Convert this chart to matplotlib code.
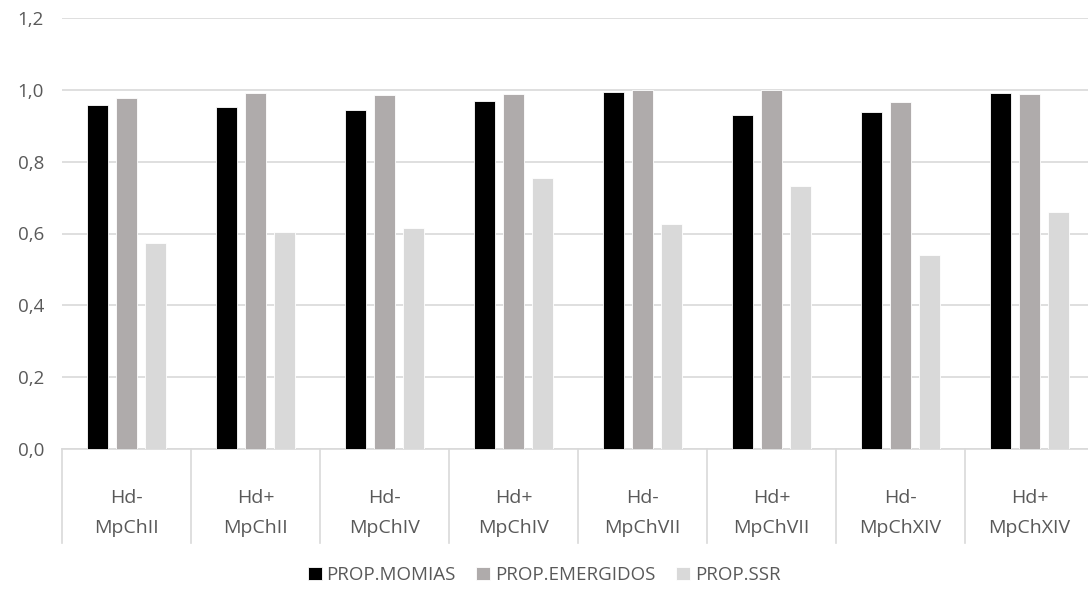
import numpy as np
import matplotlib.pyplot as plt
from matplotlib.ticker import FuncFormatter

# data
hd = ["Hd-", "Hd+", "Hd-", "Hd+", "Hd-", "Hd+", "Hd-", "Hd+"]
strains = ["MpChII", "MpChII", "MpChIV", "MpChIV", "MpChVII", "MpChVII", "MpChXIV", "MpChXIV"]
momias = [0.959, 0.952, 0.945, 0.969, 0.994, 0.930, 0.939, 0.991]
emergidos = [0.977, 0.990, 0.985, 0.989, 1.000, 1.000, 0.966, 0.989]
ssr = [0.574, 0.604, 0.616, 0.754, 0.626, 0.732, 0.540, 0.659]
series_names = ["PROP.MOMIAS", "PROP.EMERGIDOS", "PROP.SSR"]
yticks = [0.0, 0.2, 0.4, 0.6, 0.8, 1.0, 1.2]

colors = ["#000000", "#AFABAB", "#D9D9D9"]
text_col = "#595959"
grid_col = "#D9D9D9"
fs = 14

plt.rcParams["font.family"] = ["Open Sans", "DejaVu Sans"]

fig = plt.figure(figsize=(10.88, 5.9), dpi=100)
ax = fig.add_axes([62 / 1088, (590 - 449) / 590, 1032 / 1088, 431 / 590])

x = np.arange(len(hd))
width = 0.17
step = 0.225
for i, (vals, name) in enumerate(zip([momias, emergidos, ssr], series_names)):
    ax.bar(x + (i - 1) * step, vals, width, color=colors[i], label=name,
           edgecolor="white", linewidth=0.6, zorder=3)

ax.set_xlim(-0.5, len(hd) - 0.5)
ax.set_ylim(0, 1.2)
ax.set_yticks(yticks)
ax.yaxis.set_major_formatter(FuncFormatter(lambda v, p: f"{v:.1f}".replace(".", ",")))
ax.tick_params(axis="y", length=0, labelsize=fs - 0.5, labelcolor=text_col, pad=13)
ax.set_xticks([])
ax.grid(axis="y", color=grid_col, linewidth=1.2, zorder=0)
for s in ["top", "right", "left"]:
    ax.spines[s].set_visible(False)
ax.spines["bottom"].set_color(grid_col)
ax.spines["bottom"].set_linewidth(1.2)

# two-level category labels
tr = ax.get_xaxis_transform()
for xi, (a, b) in enumerate(zip(hd, strains)):
    ax.text(xi, -0.114, a, transform=tr, ha="center", va="center",
            fontsize=fs, color=text_col)
    ax.text(xi, -0.183, b, transform=tr, ha="center", va="center",
            fontsize=fs, color=text_col)
for xb in np.arange(len(hd)) - 0.5:
    ax.plot([xb, xb], [0, -0.218], transform=tr, color=grid_col,
            linewidth=1.2, clip_on=False)

fig.legend(loc="center", bbox_to_anchor=(0.5, 1 - 575 / 590), ncol=3,
           frameon=False, fontsize=13.5, handlelength=0.75, handleheight=0.75,
           handletextpad=0.25, columnspacing=1.1, labelcolor=text_col)

fig.savefig("out.png", dpi=100)
